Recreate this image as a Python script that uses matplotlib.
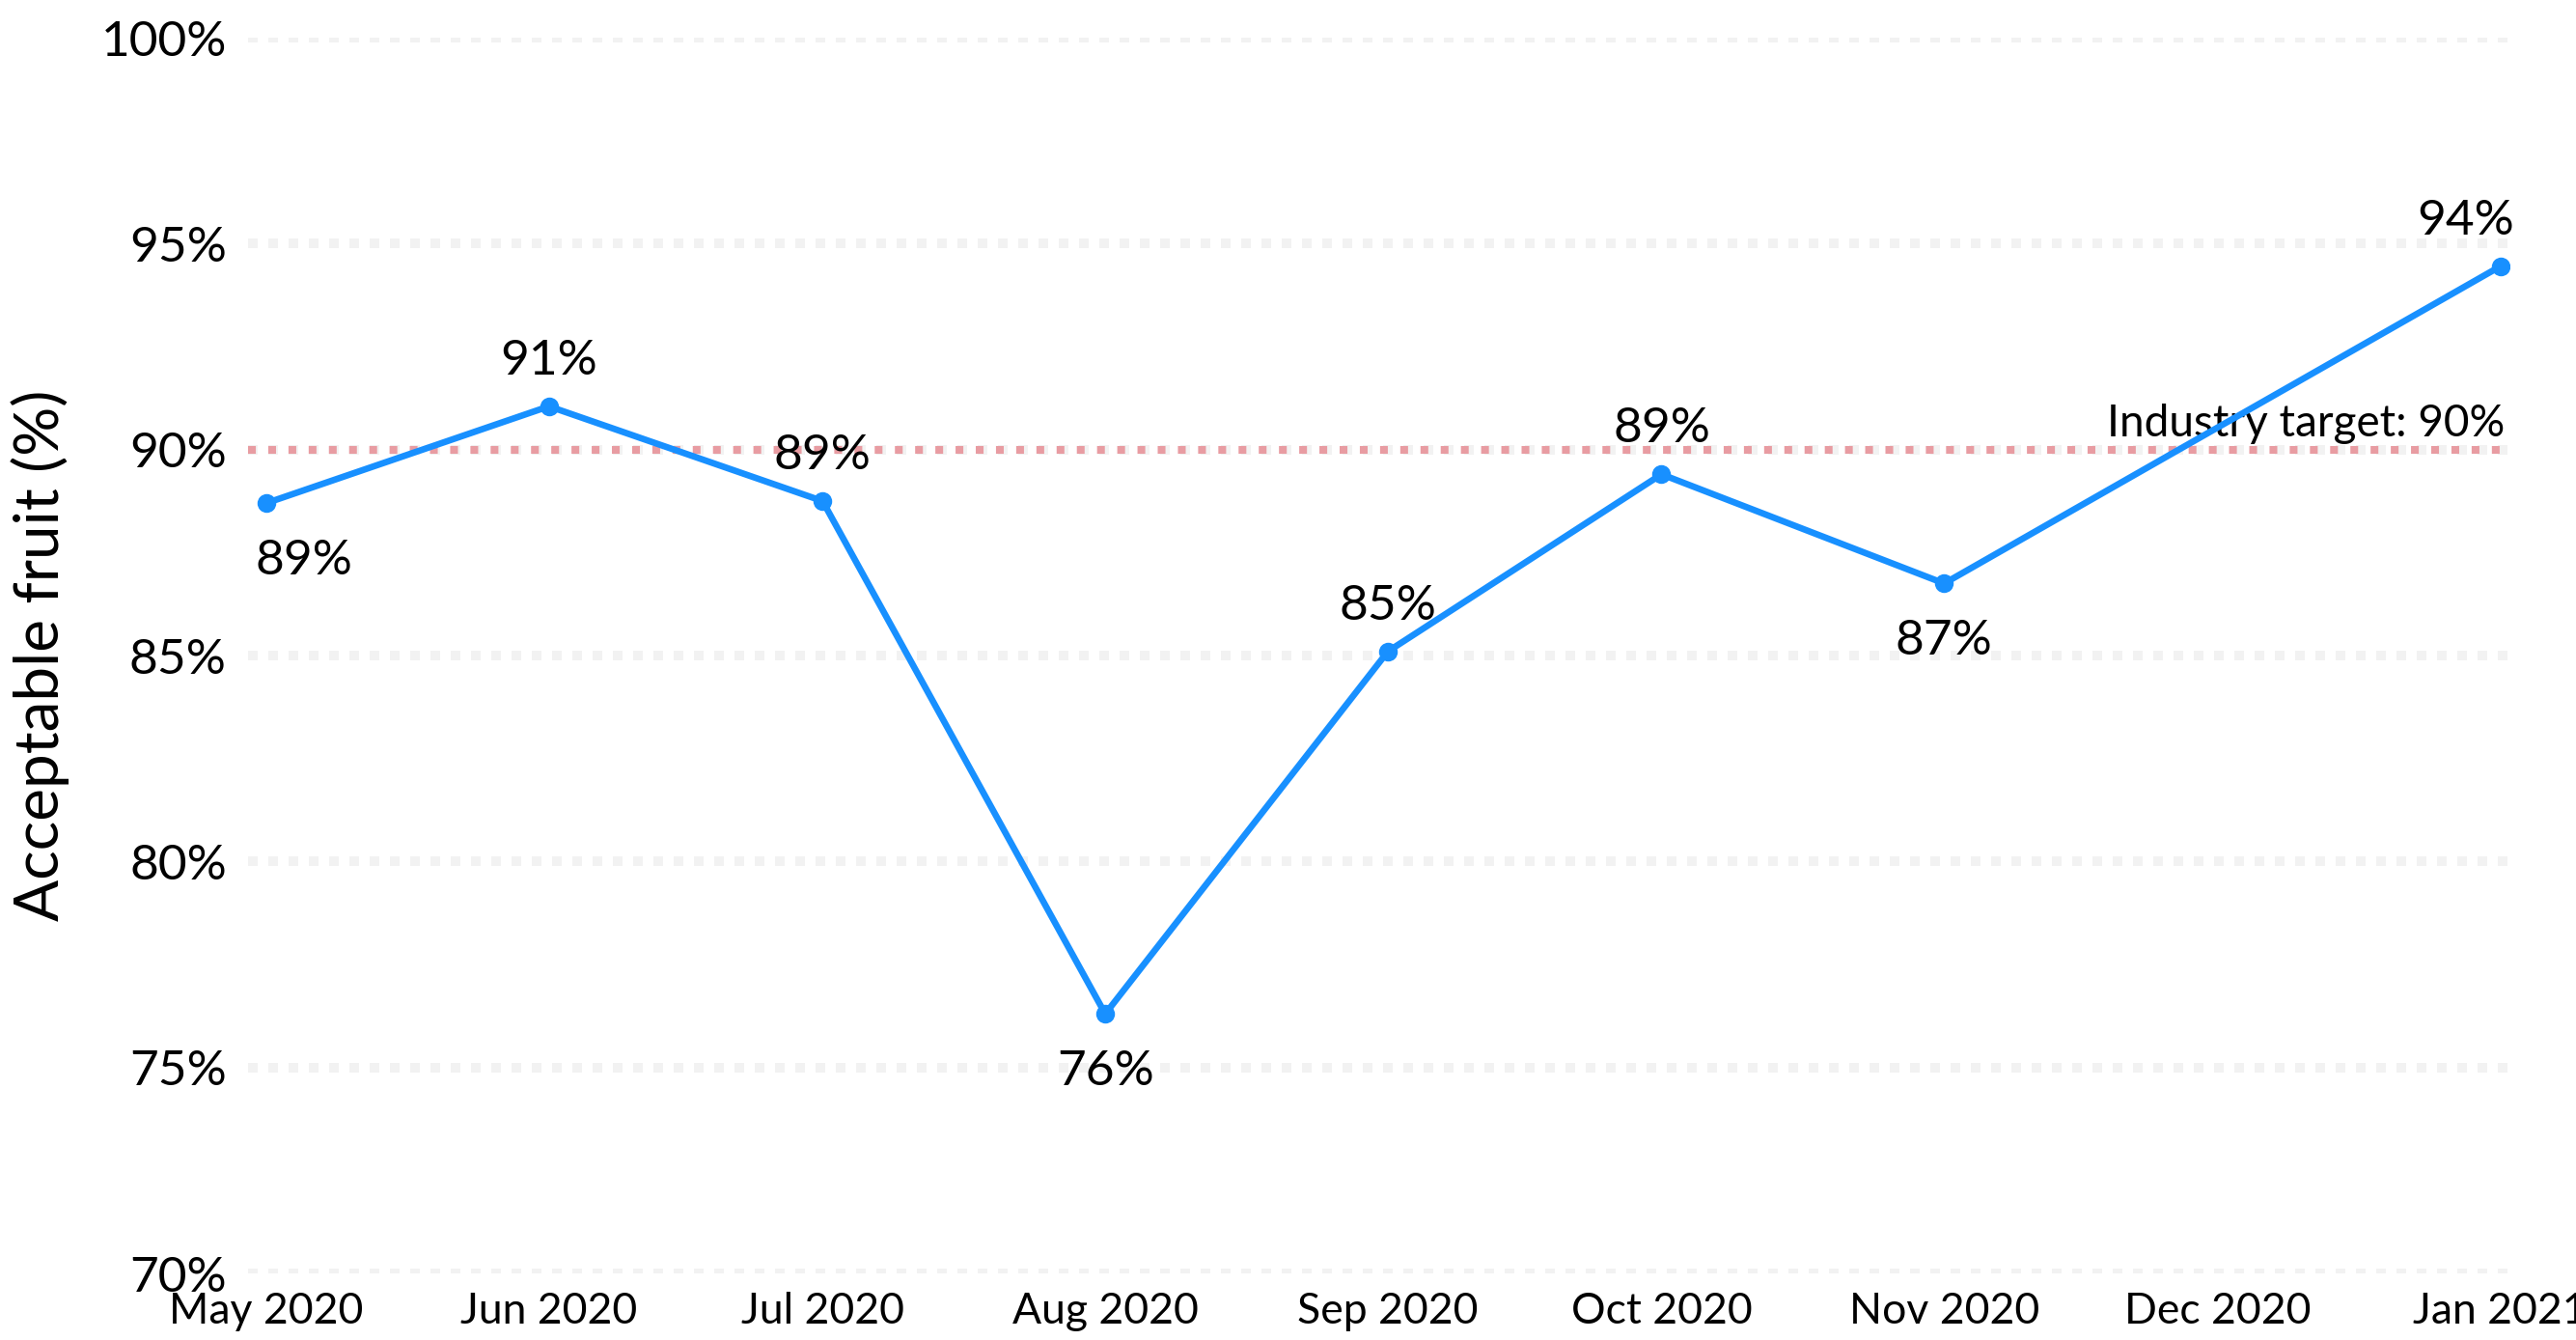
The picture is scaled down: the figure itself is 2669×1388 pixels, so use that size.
import datetime as dt

import matplotlib
matplotlib.use('Agg')
import matplotlib.pyplot as plt
import matplotlib.dates as mdates

plt.rcParams['font.family'] = ['Lato', 'DejaVu Sans']

# data
months = [dt.date(2020, 5, 1), dt.date(2020, 6, 1), dt.date(2020, 7, 1),
          dt.date(2020, 8, 1), dt.date(2020, 9, 1), dt.date(2020, 10, 1),
          dt.date(2020, 11, 1), dt.date(2021, 1, 1)]
acceptable = [88.7, 91.05, 88.75, 76.3, 85.1, 89.4, 86.75, 94.45]
target = 90
tick_months = [dt.date(2020, m, 1) for m in range(5, 13)] + [dt.date(2021, 1, 1)]
y_ticks = [70, 75, 80, 85, 90, 95, 100]

# label placement: 1 above, -1 below
label_side = [-1, 1, 1, -1, 1, 1, -1, 1]
label_dx = [14, 0, 0, 0, 0, 0, 0, -13]

BLUE = '#1890ff'
GRID = '#f2f2f2'
TARGET = '#e89ca2'

fig = plt.figure(figsize=(13.345, 6.94), dpi=200)
ax = fig.add_axes([0.0963, 0.0497, 0.9778 - 0.0963 - 0.0036, 0.9719 - 0.0497])

for y in y_ticks:
    ax.axhline(y, color=GRID, linewidth=3.6, linestyle=(0, (1, 1.1)), zorder=0)

ax.axhline(target, color=TARGET, linewidth=2.9, linestyle=(0, (1, 1.6)), zorder=1)
ax.annotate(f'Industry target: {target}%', xy=(0.998, target),
            xycoords=('axes fraction', 'data'), xytext=(0, 2),
            textcoords='offset points', ha='right', va='bottom', fontsize=16.5)

ax.plot(months, acceptable, color=BLUE, linewidth=2.4, marker='o',
        markersize=6, zorder=3)

for d, v, side, dx in zip(months, acceptable, label_side, label_dx):
    dy = 17 if side > 0 else -21.5
    ax.annotate(f'{v:.0f}%', xy=(d, v), xytext=(dx, dy),
                textcoords='offset points', ha='center', va='center',
                fontsize=18.5)

ax.set_ylim(70, 100)
ax.set_yticks(y_ticks)
ax.set_yticklabels([f'{y}%' for y in y_ticks], fontsize=18.5)
ax.set_xlim(months[0] - dt.timedelta(days=2.1), months[-1] + dt.timedelta(days=1.5))
ax.set_xticks(tick_months)
ax.xaxis.set_major_formatter(mdates.DateFormatter('%b %Y'))
ax.tick_params(axis='x', labelsize=16, length=0, pad=7)
ax.tick_params(axis='y', length=0, pad=8)
for s in ax.spines.values():
    s.set_visible(False)

ax.set_ylabel('Acceptable fruit (%)', fontsize=23)
ax.yaxis.set_label_coords(-0.079, 0.5)

fig.savefig('out.png', dpi=200)
